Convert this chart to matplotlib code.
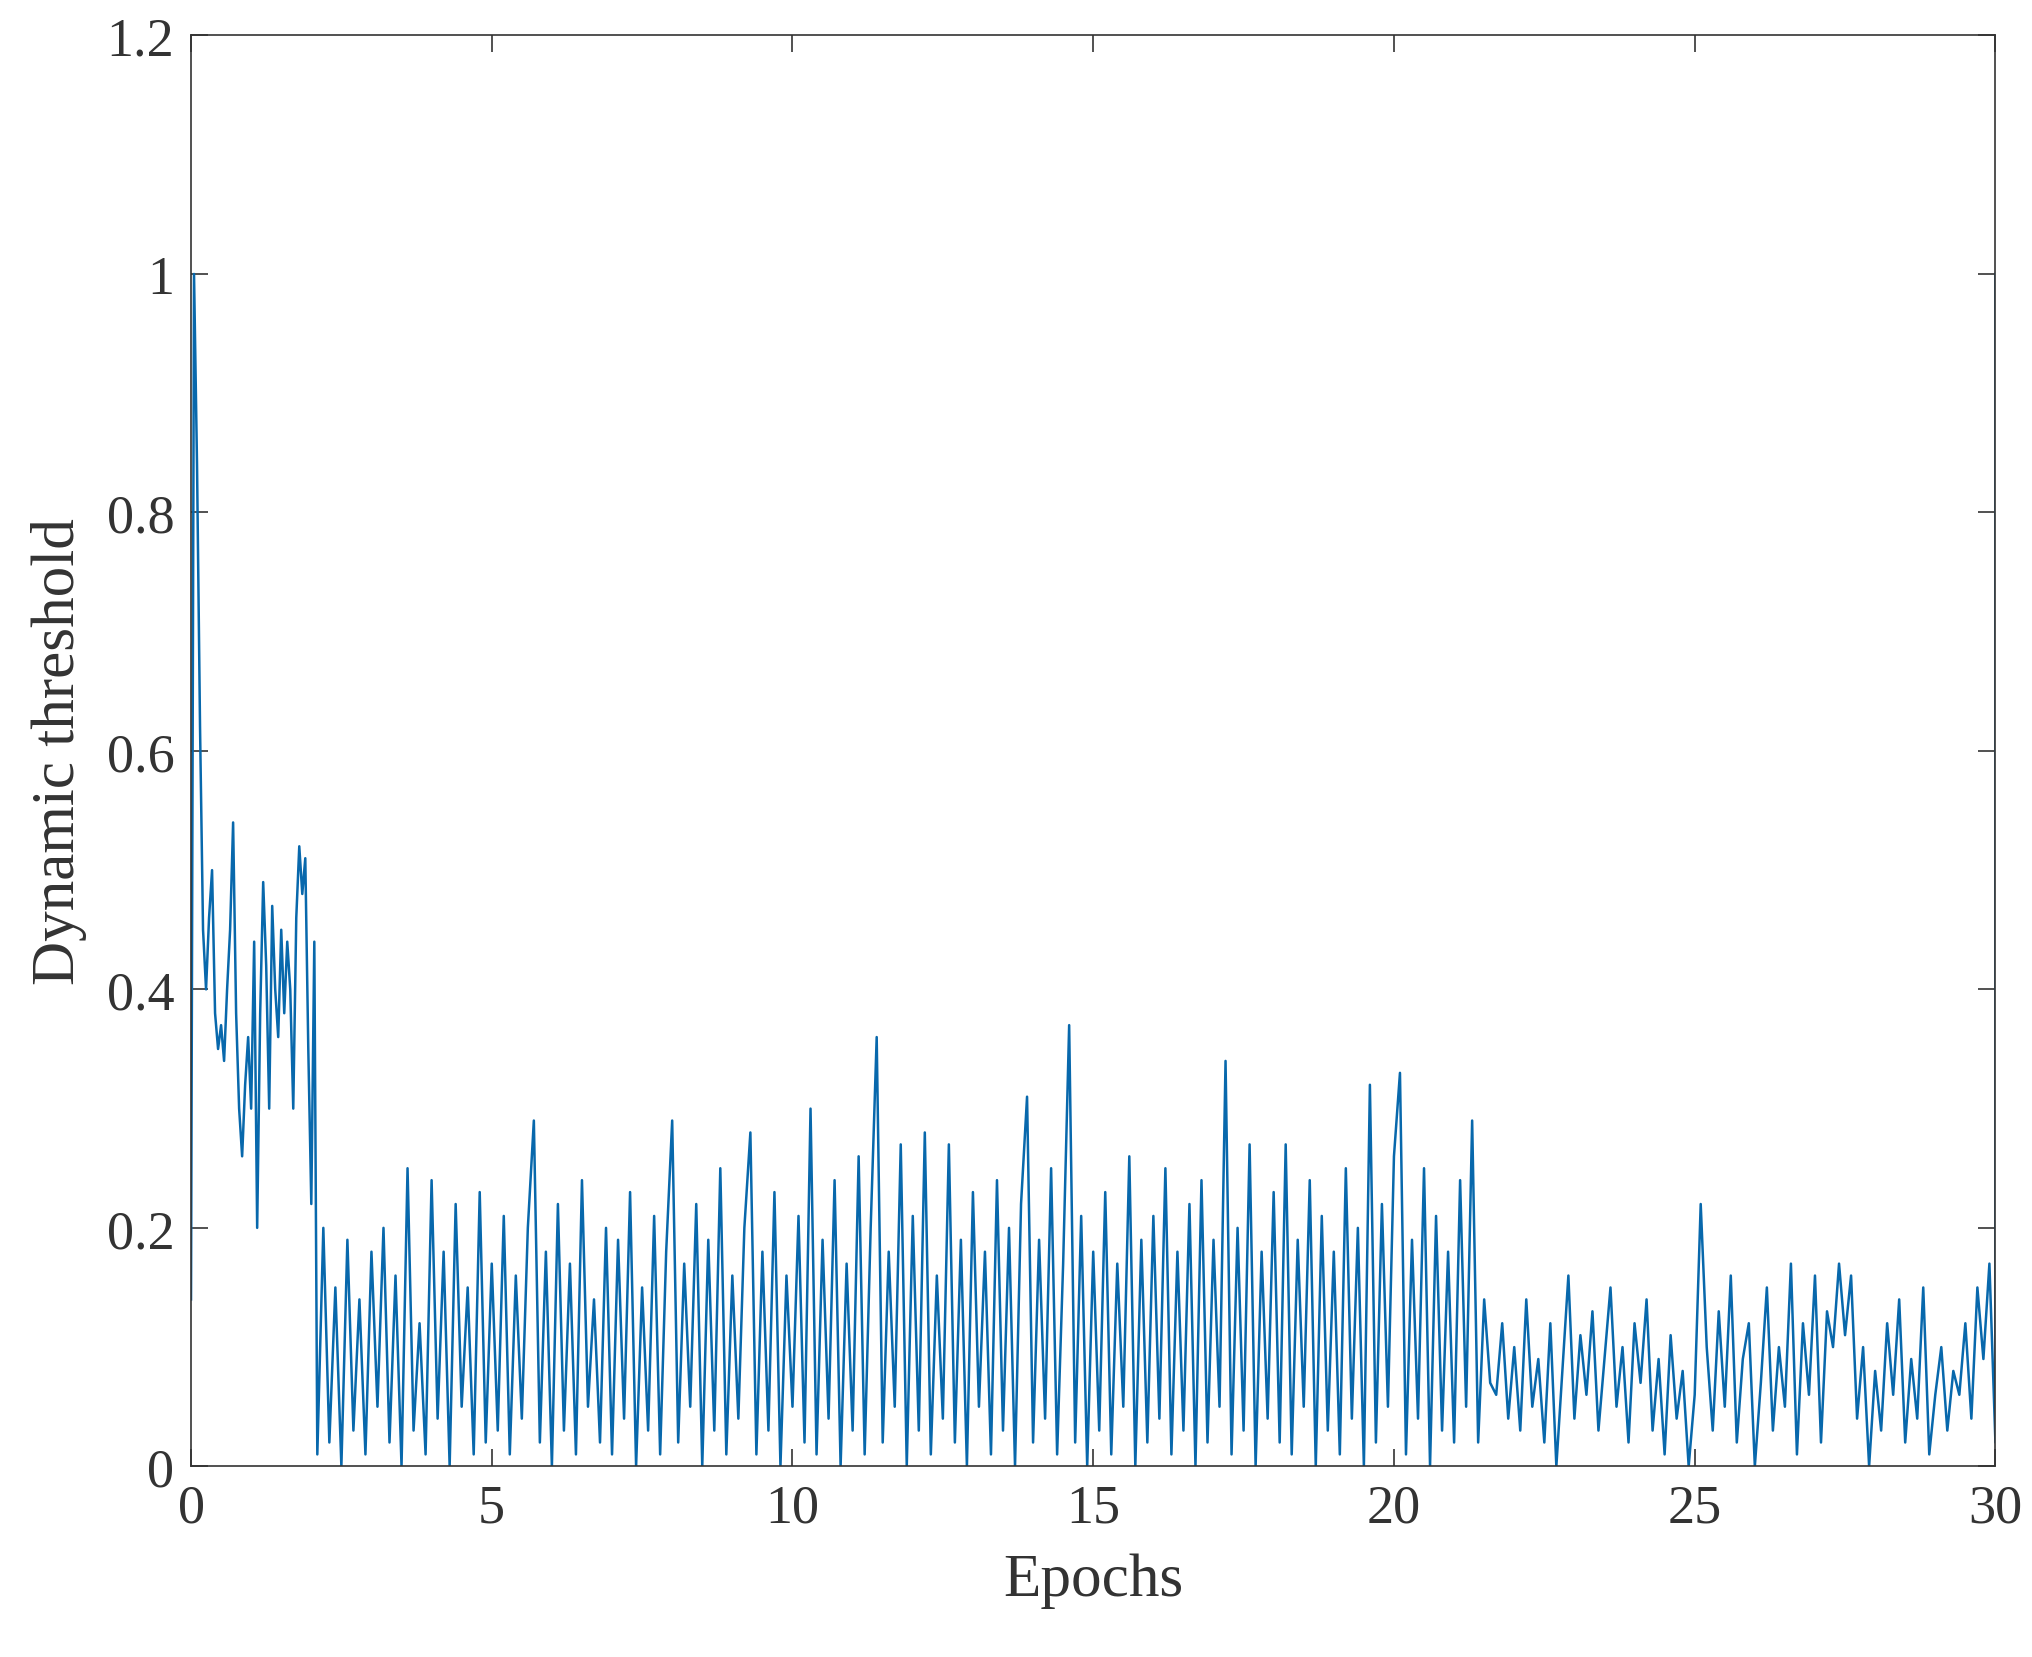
"""
Dynamic threshold vs. epochs
"""

import numpy as np
import matplotlib.pyplot as plt

# early phase, 0 - 2.05 epochs, step 0.05
y_early = [0.14, 1.0, 0.84, 0.62, 0.45, 0.40, 0.46, 0.50, 0.38, 0.35, 0.37, 0.34, 0.40, 0.45,
           0.54, 0.38, 0.30, 0.26, 0.32, 0.36, 0.30, 0.44, 0.20, 0.38, 0.49, 0.42, 0.30, 0.47,
           0.40, 0.36, 0.45, 0.38, 0.44, 0.40, 0.30, 0.46, 0.52, 0.48, 0.51, 0.35, 0.22, 0.44]

# noisy middle phase, 2.1 - 21.5 epochs, step 0.1
y_mid = [0.01, 0.20, 0.02, 0.15, 0.00, 0.19, 0.03, 0.14, 0.01, 0.18,
         0.05, 0.20, 0.02, 0.16, 0.00, 0.25, 0.03, 0.12, 0.01, 0.24,
         0.04, 0.18, 0.00, 0.22, 0.05, 0.15, 0.01, 0.23, 0.02, 0.17,
         0.03, 0.21, 0.01, 0.16, 0.04, 0.20, 0.29, 0.02, 0.18, 0.00,
         0.22, 0.03, 0.17, 0.01, 0.24, 0.05, 0.14, 0.02, 0.20, 0.01,
         0.19, 0.04, 0.23, 0.00, 0.15, 0.03, 0.21, 0.01, 0.18, 0.29,
         0.02, 0.17, 0.05, 0.22, 0.00, 0.19, 0.03, 0.25, 0.01, 0.16,
         0.04, 0.20, 0.28, 0.01, 0.18, 0.03, 0.23, 0.00, 0.16, 0.05,
         0.21, 0.02, 0.30, 0.01, 0.19, 0.04, 0.24, 0.00, 0.17, 0.03,
         0.26, 0.01, 0.20, 0.36, 0.02, 0.18, 0.05, 0.27, 0.00, 0.21,
         0.03, 0.28, 0.01, 0.16, 0.04, 0.27, 0.02, 0.19, 0.00, 0.23,
         0.05, 0.18, 0.01, 0.24, 0.03, 0.20, 0.00, 0.22, 0.31, 0.02,
         0.19, 0.04, 0.25, 0.01, 0.17, 0.37, 0.02, 0.21, 0.00, 0.18,
         0.03, 0.23, 0.01, 0.17, 0.05, 0.26, 0.00, 0.19, 0.02, 0.21,
         0.04, 0.25, 0.01, 0.18, 0.03, 0.22, 0.00, 0.24, 0.02, 0.19,
         0.05, 0.34, 0.01, 0.20, 0.03, 0.27, 0.00, 0.18, 0.04, 0.23,
         0.02, 0.27, 0.01, 0.19, 0.05, 0.24, 0.00, 0.21, 0.03, 0.18,
         0.01, 0.25, 0.04, 0.20, 0.00, 0.32, 0.02, 0.22, 0.05, 0.26,
         0.33, 0.01, 0.19, 0.04, 0.25, 0.00, 0.21, 0.03, 0.18, 0.02,
         0.24, 0.05, 0.29, 0.02, 0.14]

# late phase, 21.6 - 30 epochs, step 0.1
y_late = [0.07, 0.06, 0.12, 0.04, 0.10, 0.03, 0.14, 0.05, 0.09, 0.02,
          0.12, 0.00, 0.08, 0.16, 0.04, 0.11, 0.06, 0.13, 0.03, 0.09,
          0.15, 0.05, 0.10, 0.02, 0.12, 0.07, 0.14, 0.03, 0.09, 0.01,
          0.11, 0.04, 0.08, 0.00, 0.06, 0.22, 0.10, 0.03, 0.13, 0.05,
          0.16, 0.02, 0.09, 0.12, 0.00, 0.07, 0.15, 0.03, 0.10, 0.05,
          0.17, 0.01, 0.12, 0.06, 0.16, 0.02, 0.13, 0.10, 0.17, 0.11,
          0.16, 0.04, 0.10, 0.00, 0.08, 0.03, 0.12, 0.06, 0.14, 0.02,
          0.09, 0.04, 0.15, 0.01, 0.06, 0.10, 0.03, 0.08, 0.06, 0.12,
          0.04, 0.15, 0.09, 0.17, 0.02]

# final jump at epoch 30
y_tail = [0.42, 1.0]

x = np.concatenate([0.0 + 0.05*np.arange(len(y_early)),
                    2.1 + 0.1*np.arange(len(y_mid)),
                    21.6 + 0.1*np.arange(len(y_late)),
                    [30.0, 30.0]])
y = np.concatenate([y_early, y_mid, y_late, y_tail])

plt.rc('font', family='Liberation Serif')
plt.rc('xtick', labelsize=39, direction='in', top=True)
plt.rc('ytick', labelsize=39, direction='in', right=True)

fig = plt.figure(figsize=(20.32, 16.58), dpi=100)
ax = fig.add_axes([0.094, 0.115, 0.888, 0.863])
ax.plot(x, y, color='#0868ac', linewidth=1.8)
ax.set_xlim(0, 30)
ax.set_ylim(0, 1.2)
ax.set_xticks(np.arange(0, 31, 5))
ax.set_yticks([0, 0.2, 0.4, 0.6, 0.8, 1.0, 1.2])
ax.set_yticklabels(['0', '0.2', '0.4', '0.6', '0.8', '1', '1.2'])
ax.tick_params(length=12, width=1.2, colors='#333333', pad=12)
for s in ax.spines.values():
    s.set_linewidth(1.2)
    s.set_color('#333333')
ax.set_xlabel('Epochs', fontsize=44, color='#333333', labelpad=14)
ax.set_ylabel('Dynamic threshold', fontsize=44, color='#333333', labelpad=14)
fig.savefig('out.png')
